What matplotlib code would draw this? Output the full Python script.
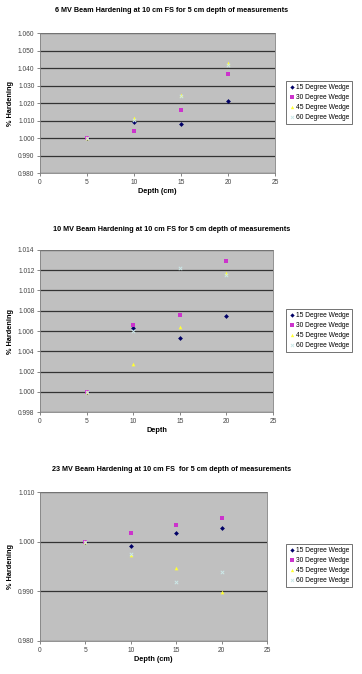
import matplotlib.pyplot as plt
import numpy as np

plt.rcParams['font.family'] = ['Liberation Sans', 'DejaVu Sans']

depth = [5, 10, 15, 20]
series = ["15 Degree Wedge", "30 Degree Wedge", "45 Degree Wedge", "60 Degree Wedge"]

# 6 MV
mv6_15 = [1.000, 1.009, 1.008, 1.021]
mv6_30 = [1.000, 1.004, 1.016, 1.0365]
mv6_45 = [1.000, 1.0113, 1.0245, 1.0428]
mv6_60 = [1.000, 1.0105, 1.0240, 1.0420]

# 10 MV
mv10_15 = [1.000, 1.0063, 1.0053, 1.0075]
mv10_30 = [1.000, 1.0066, 1.0076, 1.0129]
mv10_45 = [1.000, 1.0027, 1.0064, 1.0117]
mv10_60 = [1.000, 1.0060, 1.0122, 1.0115]

# 23 MV
mv23_15 = [1.000, 0.9991, 1.0017, 1.0028]
mv23_30 = [1.000, 1.0017, 1.0033, 1.0047]
mv23_45 = [1.000, 0.9973, 0.9946, 0.9899]
mv23_60 = [1.000, 0.9975, 0.9919, 0.9939]

titles = ["6 MV Beam Hardening at 10 cm FS for 5 cm depth of measurements",
          "10 MV Beam Hardening at 10 cm FS for 5 cm depth of measurements",
          "23 MV Beam Hardening at 10 cm FS  for 5 cm depth of measurements"]
xlabels = ["Depth (cm)", "Depth", "Depth (cm)"]
yticks = [np.arange(0.980, 1.0601, 0.010), np.arange(0.998, 1.0141, 0.002), np.arange(0.980, 1.0101, 0.010)]

colors = ["#000066", "#cc33cc", "#ffff33", "#cce8e8"]
markers = ["D", "s", "^", "x"]
sizes = [6, 6, 7, 6]

fig = plt.figure(figsize=(3.62, 6.74), dpi=100)
rects = [[0.1105, 0.7433, 0.649, 0.2077],
         [0.1105, 0.3887, 0.6436, 0.2404],
         [0.1105, 0.049, 0.627, 0.221]]
title_y = [0.985, 0.659, 0.304]
legend_y = [(82 + 123) / 2, (308 + 353) / 2, (543 + 588) / 2]

data = [[mv6_15, mv6_30, mv6_45, mv6_60],
        [mv10_15, mv10_30, mv10_45, mv10_60],
        [mv23_15, mv23_30, mv23_45, mv23_60]]

for i in range(3):
    ax = fig.add_axes(rects[i])
    ax.set_facecolor("#c0c0c0")
    handles = []
    for j in range(4):
        h = ax.scatter(depth, data[i][j], s=sizes[j], marker=markers[j], color=colors[j],
                       linewidths=0.7 if markers[j] == "x" else 0, zorder=3, label=series[j])
        handles.append(h)
    ax.set_xlim(0, 25)
    ax.set_xticks(range(0, 26, 5))
    ax.set_ylim(yticks[i][0], yticks[i][-1])
    ax.set_yticks(yticks[i])
    ax.set_yticklabels(["%.3f" % v for v in yticks[i]])
    ax.tick_params(labelsize=4.8, length=2, width=0.5, colors="#555555", labelcolor="#444444", pad=2)
    ax.yaxis.grid(True, color="#333333", linewidth=0.9)
    ax.set_axisbelow(True)
    for s in ax.spines.values():
        s.set_color("#808080")
        s.set_linewidth(0.6)
    ax.set_xlabel(xlabels[i], fontsize=5.3, fontweight="bold", labelpad=2)
    ax.set_ylabel("% Hardening", fontsize=5.3, fontweight="bold", labelpad=3)
    fig.text(0.475, title_y[i], titles[i], ha="center", va="center", fontsize=5.2, fontweight="bold")
    leg = fig.legend(handles=handles, loc="center left",
                     bbox_to_anchor=(283 / 362, 1 - legend_y[i] / 674),
                     fontsize=4.8, frameon=True, fancybox=False, borderpad=0.4,
                     handletextpad=0.1, handlelength=1.0, labelspacing=0.45, markerscale=0.9)
    leg.get_frame().set_edgecolor("#333333")
    leg.get_frame().set_linewidth(0.6)

fig.savefig("out.png", dpi=100)
